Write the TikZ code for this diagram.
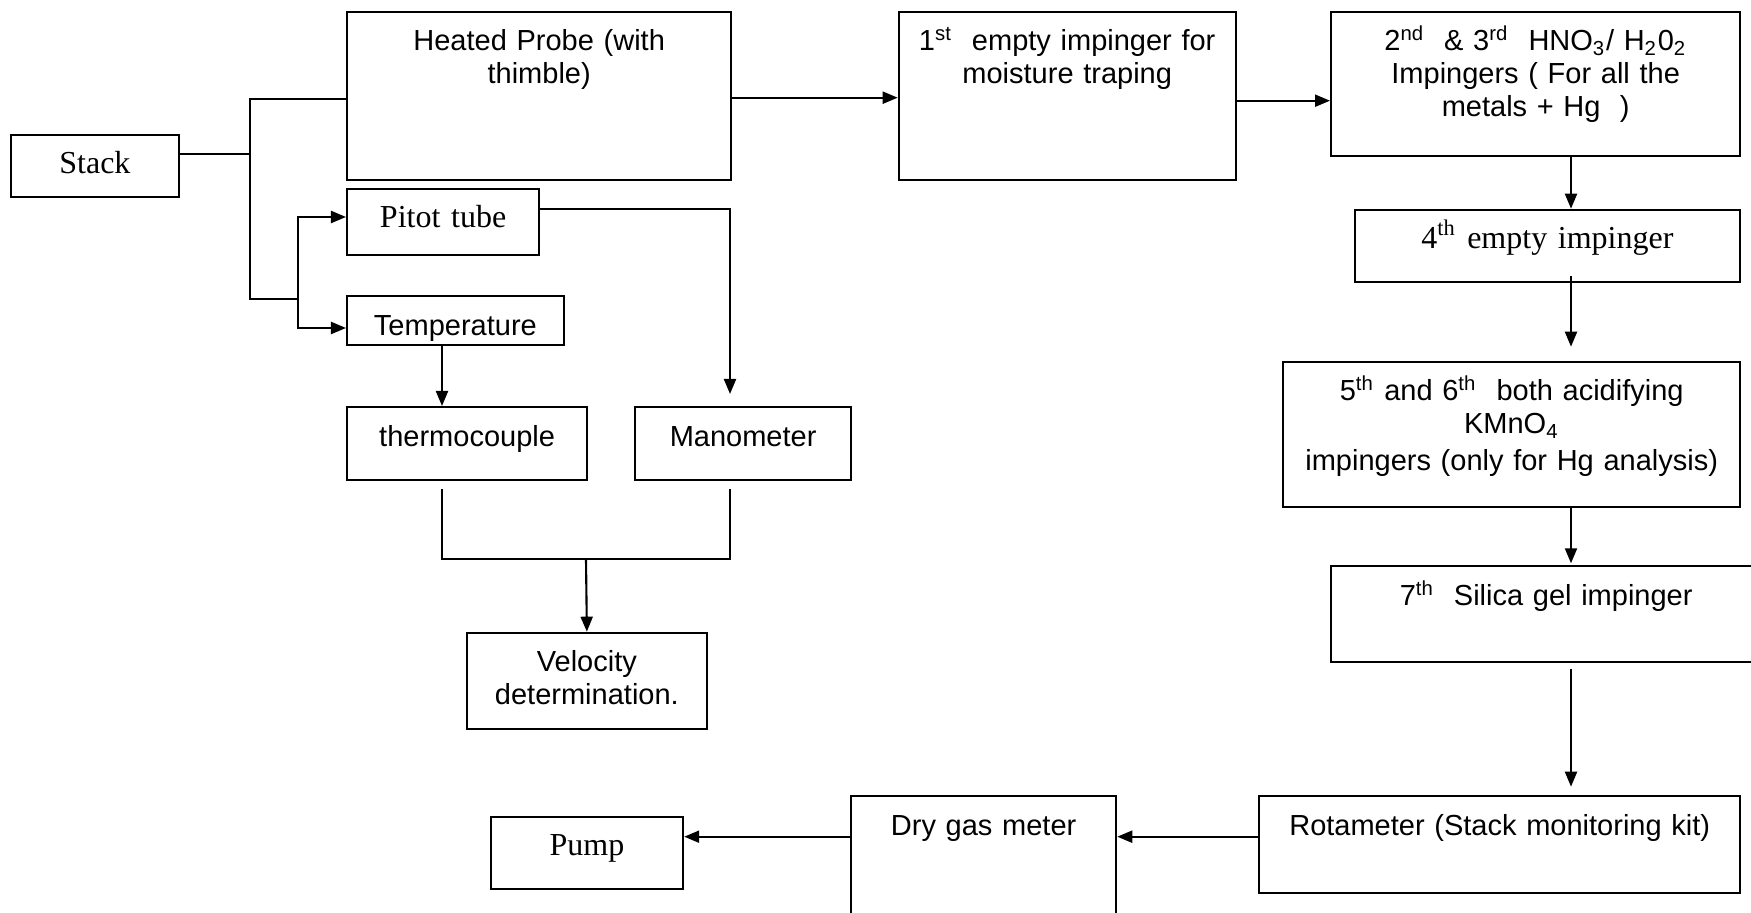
\documentclass[tikz,border=0pt]{standalone}
\usepackage{fontspec}
\setmainfont{Liberation Sans}
\newfontfamily\timesfont{Liberation Serif}
\usepackage{tikz}
\usetikzlibrary{
        arrows.meta,
        positioning
    }
\tikzset{>={Triangle[length=0.15cm,width=0.12cm]}}
\tikzset{box/.style={draw,rectangle,anchor=north west,inner xsep=0pt,inner ysep=0pt,
        align=center,text height=0.39cm,font=\fontsize{8.25}{9.4}\selectfont}}
\tikzset{tbox/.style={box,font=\fontsize{9.1}{10.2}\timesfont}}

\begin{document}
\begin{tikzpicture}[x=0.01cm,y=-0.01cm,line width=0.6pt]
                \useasboundingbox (0,0) rectangle (1751,913);
                \clip (0,0) rectangle (1751,913);
                % left part
                \node[tbox,text width=1.68cm,text depth=0.233cm] (stack) at (9.8,133.7) {Stack};
                \node[box,text width=3.84cm,text depth=1.293cm] (probe) at (346,10.7) {Heated Probe (with\\thimble)};
                \node[tbox,text width=1.92cm,text depth=0.273cm] (pitot) at (346,187.7) {Pitot tube};
                \node[box,text width=2.165cm,text depth=0.094cm] (temp) at (346,295.3) {Temperature};
                \node[box,text width=2.40cm,text depth=0.337cm] (thermo) at (346,406) {thermocouple};
                \node[box,text width=2.16cm,text depth=0.337cm] (mano) at (634,406) {Manometer};
                \node[box,text width=2.405cm,text depth=0.57cm] (velo) at (465.5,631.7) {Velocity\\determination.};
                % impinger train
                \node[box,text width=3.367cm,text depth=1.296cm] (i1) at (897.7,10.7)
                    {1\textsuperscript{st}\ \ empty impinger for\\moisture traping};
                \node[box,text width=4.09cm,text depth=1.053cm] (i23) at (1330,10.7)
                    {2\textsuperscript{nd}\ \ \& 3\textsuperscript{rd}\ \ HNO\textsubscript{3}/ H\textsubscript{2}0\textsubscript{2}\\Impingers ( For all the\\metals + Hg\ \ )};
                \node[tbox,text width=3.845cm,text depth=0.33cm] (i4) at (1354,208.7) {4\textsuperscript{th} empty impinger};
                \node[box,text width=4.57cm,text depth=1.06cm] (i56) at (1282,360.7)
                    {5\textsuperscript{th} and 6\textsuperscript{th}\ \ both acidifying\\KMnO\textsubscript{4}\\[1pt]impingers (only for Hg analysis)};
                \node[box,text width=4.30cm,text depth=0.57cm] (i7) at (1330,565.3) {7\textsuperscript{th}\ \ Silica gel impinger};
                \node[box,text width=4.81cm,text depth=0.577cm] (rota) at (1258,795) {Rotameter (Stack monitoring kit)};
                \node[box,text width=2.65cm,text depth=1.01cm] (dgm) at (850,795) {Dry gas meter};
                \node[tbox,text width=1.923cm,text depth=0.336cm] (pump) at (489.7,815.7) {Pump};
                % helper points
                \coordinate (sj) at (250,154.3);
                \coordinate (top) at (250,99.3);
                \coordinate (bot) at (250,299);
                \coordinate (fork) at (298,299);
                \coordinate (pj) at (298,217);
                \coordinate (tj) at (298,328);
                \coordinate (pm) at (730,208.7);
                \coordinate (tc) at (442,559.3);
                \coordinate (mc) at (730,559.3);
                \coordinate (mj) at (586,559.3);
                \coordinate (h1) at (0,97.7);
                \coordinate (h2) at (0,100.7);
                \coordinate (h3) at (0,836.7);
                \coordinate (v1) at (1571,0);
                % connectors
                \draw (stack.east |- sj) -- (sj);
                \draw (probe.west |- top) -- (top) -- (bot) -- (fork);
                \draw[->] (fork) |- (pitot.west |- pj);
                \draw[->] (fork) |- (temp.west |- tj);
                \draw[->,shorten >=0.12cm] (pitot.east |- pm) -| (mano.north -| pm);
                \draw[->] (temp.south -| tc) -- (thermo.north -| tc);
                \draw[shorten <=0.08cm] (thermo.south -| tc) -- (tc) -- (mj);
                \draw[shorten <=0.08cm] (mano.south -| mc) -- (mc) -- (mj);
                \draw[->] (mj) -- (velo.north);
                \draw[->] (probe.east |- h1) -- (i1.west |- h1);
                \draw[->] (i1.east |- h2) -- (i23.west |- h2);
                \path[->]
                    (i23.south -| v1) edge (i4.north -| v1)
                    (i4.south -| v1) edge [shorten <=-0.067cm,shorten >=0.14cm] (i56.north -| v1)
                    (i56.south -| v1) edge [shorten >=0.02cm] (i7.north -| v1)
                    (i7.south -| v1) edge [shorten <=0.054cm,shorten >=0.083cm] (rota.north -| v1)
                    (rota.west |- h3) edge (dgm.east |- h3)
                    (dgm.west |- h3) edge (pump.east |- h3);
            \end{tikzpicture}
\end{document}
